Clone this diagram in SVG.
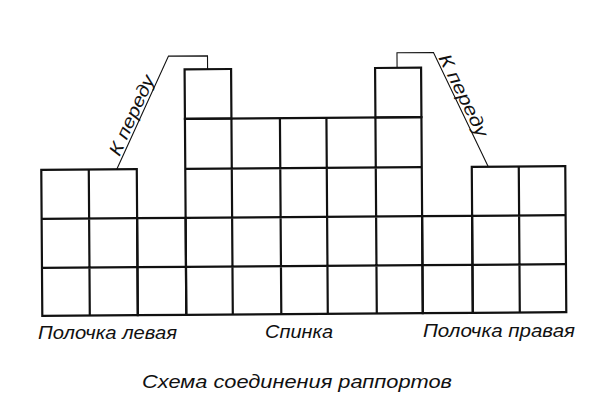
<svg xmlns="http://www.w3.org/2000/svg" width="600" height="409" viewBox="0 0 600 409">
<style>
.cell{fill:none;stroke:#111;stroke-width:2.2;stroke-linejoin:miter}
.lead{fill:none;stroke:#111;stroke-width:1.1}
.lbl{font-family:"Liberation Sans","DejaVu Sans",sans-serif;font-style:italic;font-size:19px;fill:#111}
.lt{font-family:"Liberation Sans","DejaVu Sans",sans-serif;font-style:italic;font-size:18px;fill:#111}
</style>
<rect width="600" height="409" fill="#fff"/>
<g transform="rotate(-0.4 303 200)">
  <g id="polochka-levaya">
    <rect class="cell" x="41.5" y="168" width="95.5" height="146"/>
    <path class="cell" d="M89 168V314M41.5 217H137M41.5 266H137"/>
  </g>
  <g id="vstavka-levaya">
    <rect class="cell" x="137" y="217" width="48.5" height="97"/>
    <path class="cell" d="M137 266H185.5"/>
  </g>
  <g id="spinka">
    <rect class="cell" x="185.5" y="118" width="236.5" height="196"/>
    <path class="cell" d="M232 118V314M280.5 118V314M327 118V314M376 118V314M185.5 168H422M185.5 217H422M185.5 266H422"/>
    <rect class="cell" x="185.5" y="68.5" width="46.5" height="49.5"/>
    <rect class="cell" x="376" y="68.5" width="46" height="49.5"/>
  </g>
  <g id="vstavka-pravaya">
    <rect class="cell" x="422" y="217" width="50" height="97"/>
    <path class="cell" d="M422 266H472"/>
  </g>
  <g id="polochka-pravaya">
    <rect class="cell" x="472" y="168" width="93.5" height="146"/>
    <path class="cell" d="M519 168V314M472 217H565.5M472 266H565.5"/>
  </g>
  <g id="connectors">
    <polyline class="lead" points="117,168 169.5,55.2 208.5,55.2 208.5,68.5"/>
    <polyline class="lead" points="398,68.5 398,53.4 434.5,53.4 488.5,168"/>
    <text class="lt" transform="translate(121.5,156.5) rotate(-65.2)" x="0" y="-2" textLength="86" lengthAdjust="spacingAndGlyphs">К переду</text>
    <text class="lt" transform="translate(437.5,59.5) rotate(64.3)" x="0" y="-2" textLength="90" lengthAdjust="spacingAndGlyphs">К переду</text>
  </g>
</g>
<g id="labels">
  <text class="lbl" x="38" y="339" textLength="139" lengthAdjust="spacingAndGlyphs">Полочка левая</text>
  <text class="lbl" x="265" y="338" textLength="68" lengthAdjust="spacingAndGlyphs">Спинка</text>
  <text class="lbl" x="423" y="337" textLength="152" lengthAdjust="spacingAndGlyphs">Полочка правая</text>
  <text class="lbl" x="142" y="388" textLength="310" lengthAdjust="spacingAndGlyphs">Схема соединения раппортов</text>
</g>
</svg>
